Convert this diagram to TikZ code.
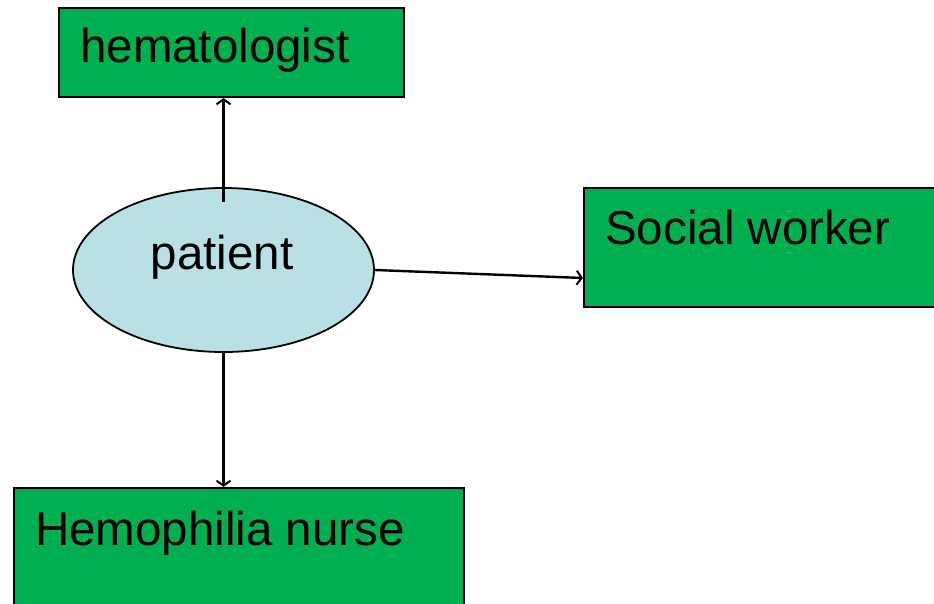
\documentclass[tikz,border=0pt]{standalone}
\usepackage{fontspec}
\setmainfont{Liberation Sans}
\usetikzlibrary{shapes.geometric,arrows.meta}
\definecolor{boxgreen}{HTML}{00B050}
\definecolor{paleblue}{HTML}{B9E0E5}
\tikzset{
  rolebox/.style={draw=black, line width=2.2pt, fill=boxgreen, rectangle, inner sep=0pt},
  patientshape/.style={draw=black, line width=1.8pt, fill=paleblue, ellipse, inner sep=0pt,
    minimum width=301pt, minimum height=164pt},
  bigtext/.style={font=\fontsize{47.5}{57}\selectfont, inner sep=0pt, anchor=base west},
  link/.style={line width=2.4pt, -{Straight Barb[length=5pt,width=14pt,line width=2pt]}}
}
\begin{document}
\begin{tikzpicture}[x=1pt,y=-1pt]
  \useasboundingbox (0,0) rectangle (934,604);
  \clip (0,0) rectangle (934,604);
  % care providers
  \node[rolebox, minimum width=345pt, minimum height=89pt] (hema) at (231.5,52.5) {};
  \node[rolebox, minimum width=366pt, minimum height=119pt] (social) at (767,247.5) {};
  \node[rolebox, minimum width=450pt, minimum height=134pt] (nurse) at (239,555) {};
  \node[bigtext] (hematext) at (80,63) {hematologist};
  \node[bigtext] (socialtext) at (605,244) {Social worker};
  \node[bigtext] (nursetext) at (35,545) {Hemophilia nurse};
  % the patient in the middle
  \node[patientshape] (patient) at (223.5,270) {};
  \node[bigtext, anchor=base] (patienttext) at (222,269) {patient};
  % connectors
  \coordinate (socialin) at ([yshift=-30.5pt]social.west);
  \draw[link] ([yshift=-15pt]patient.north) -- (patient.north |- hema.south);
  \draw[link] (patient.east) -- (socialin);
  \draw[link] (patient.south) -- (patient.south |- nurse.north);
\end{tikzpicture}
\end{document}
